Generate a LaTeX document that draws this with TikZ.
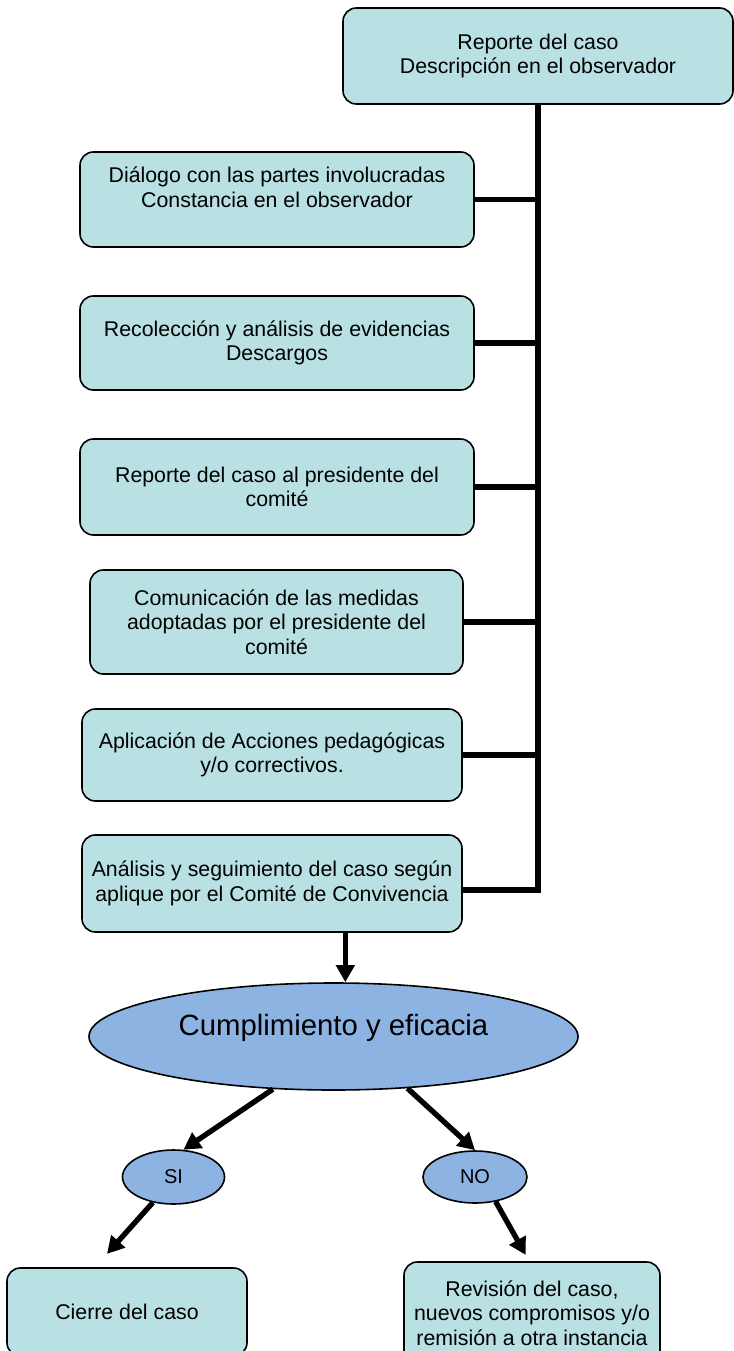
\documentclass[tikz,border=0pt]{standalone}
\usepackage{fontspec}
\setmainfont{Liberation Sans}
\usetikzlibrary{shapes.geometric,arrows.meta}
\definecolor{cajaazul}{RGB}{185,224,226}
\definecolor{elipseazul}{RGB}{141,179,226}
\tikzset{
    caja/.style={draw=black,line width=1.2pt,fill=cajaazul,rounded corners=10pt,align=center,inner sep=2pt,font=\fontsize{16pt}{18.5pt}\selectfont},
    elipse/.style={draw=black,line width=1.2pt,fill=elipseazul,ellipse,inner sep=0pt},
    barra/.style={line width=4.1pt},
    flecha/.style={line width=4pt,-{Triangle[length=12.75pt,width=13.5pt]}}
}

\begin{document}
\begin{tikzpicture}[x=0.75pt,y=-0.75pt]
                \useasboundingbox(0,0)rectangle(734,1351);
                \node[caja,minimum width=292.5pt,minimum height=72pt](rep)at(538,56){Reporte del caso\\Descripción en el observador};
                \node[caja,minimum width=295.5pt,minimum height=71.25pt](dlg)at(277,199.5){Diálogo con las partes involucradas\\Constancia en el observador\\\mbox{}};
                \node[caja,minimum width=295.5pt,minimum height=70.5pt](rec)at(277,343){Recolección y análisis de evidencias\\Descargos};
                \node[caja,minimum width=295.5pt,minimum height=72pt](pres)at(277,487){Reporte del caso al presidente del\\comité};
                \node[caja,minimum width=279.75pt,minimum height=78pt](com)at(276.5,622){Comunicación de las medidas\\adoptadas por el presidente del\\comité};
                \node[caja,minimum width=285pt,minimum height=69pt](apl)at(272,755){Aplicación de Acciones pedagógicas\\y/o correctivos.};
                \node[caja,minimum width=285pt,minimum height=72.75pt](ana)at(272,883.5){Análisis y seguimiento del caso según\\aplique por el Comité de Convivencia};
                \draw[barra](rep.south)|-([yshift=-4.9pt]ana.east);
                \draw[barra](dlg.east)--(dlg.east-|rep.south);
                \draw[barra](rec.east)--(rec.east-|rep.south);
                \draw[barra](pres.east)--(pres.east-|rep.south);
                \draw[barra](com.east)--(com.east-|rep.south);
                \draw[barra](apl.east)--(apl.east-|rep.south);
                \node[elipse,minimum width=366.75pt,minimum height=80.25pt,text height=16pt,text depth=17pt,font=\fontsize{22pt}{26pt}\selectfont](cump)at(333.5,1036.5){Cumplimiento y eficacia};
                \draw[flecha]([xshift=55pt]ana.south)--([xshift=55pt]ana.south|-cump.north);
                \node[elipse,minimum width=76.5pt,minimum height=40.5pt,font=\fontsize{15pt}{18pt}\selectfont](si)at(173.5,1177){SI};
                \node[elipse,minimum width=78pt,minimum height=39pt,font=\fontsize{15pt}{18pt}\selectfont](no)at(475,1177){NO};
                \draw[flecha](cump.221)--(si.70);
                \draw[flecha](cump.325)--(no.north);
                \node[caja,minimum width=180pt,minimum height=66pt](cie)at(127,1312){Cierre del caso};
                \node[caja,minimum width=192pt,minimum height=76.5pt](revi)at(532,1313){Revisión del caso,\\nuevos compromisos y/o\\remisión a otra instancia};
                \draw[flecha](si.231)--([xshift=-15pt,yshift=10pt]cie.north);
                \draw[flecha](no.310)--([xshift=-4.7pt,yshift=4.7pt]revi.north);
            \end{tikzpicture}
\end{document}
